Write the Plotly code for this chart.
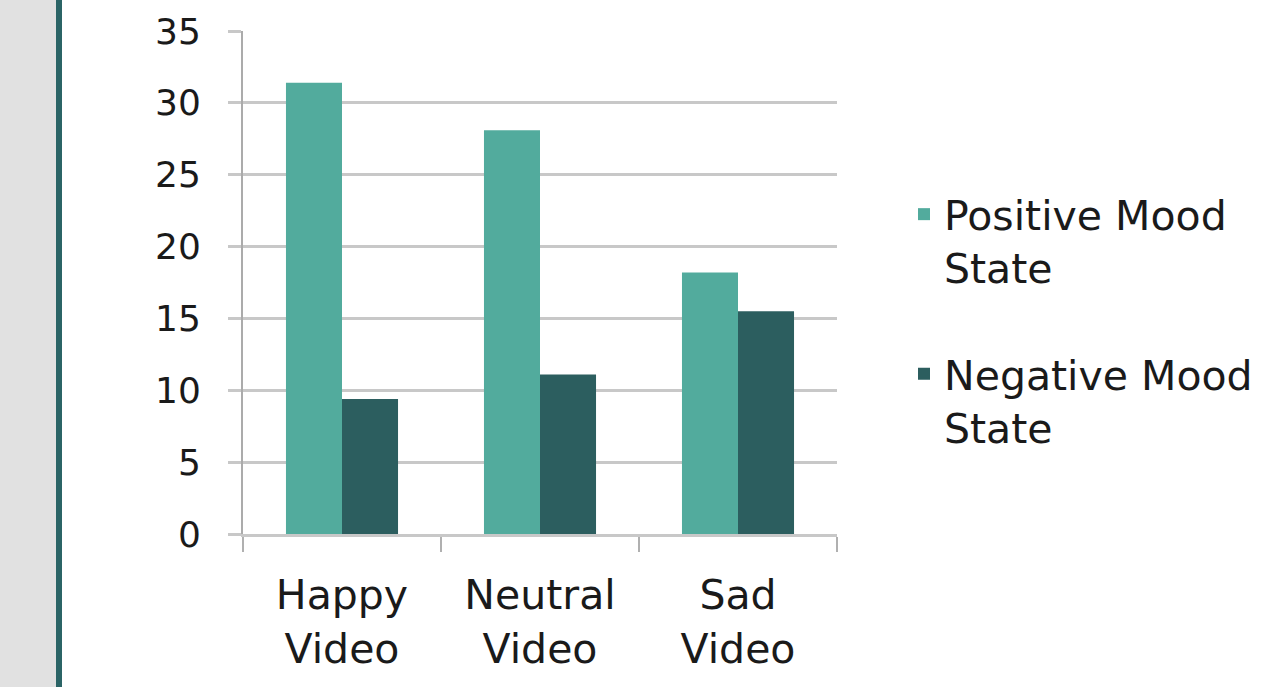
import plotly.graph_objects as go

categories = ["Happy<br>Video", "Neutral<br>Video", "Sad<br>Video"]
positive_mood = [31.4, 28.1, 18.2]
negative_mood = [9.4, 11.1, 15.5]
series_names = ["Positive Mood<br>State", "Negative Mood<br>State"]
y_ticks = [0, 5, 10, 15, 20, 25, 30, 35]

W, H = 1264, 687
L, R, T, B = 243, 837, 31, 534  # plot area pixel bounds

FONT = "DejaVu Sans, sans-serif"

fig = go.Figure()
fig.add_trace(go.Bar(x=categories, y=positive_mood, name=series_names[0],
                     marker=dict(color="#52AB9D", line=dict(width=0)),
                     legendgroup="a"))
fig.add_trace(go.Bar(x=categories, y=negative_mood, name=series_names[1],
                     marker=dict(color="#2C5E5F", line=dict(width=0)),
                     legendgroup="b"))

def px_x(p):
    return (p - L) / (R - L)

def px_y(p):
    return (B - p) / (B - T)

fig.add_shape(type="rect", xref="paper", yref="paper",
              x0=px_x(0), x1=px_x(56), y0=px_y(H), y1=px_y(0),
              fillcolor="#E1E1E1", line=dict(width=0), layer="below")
fig.add_shape(type="rect", xref="paper", yref="paper",
              x0=px_x(56), x1=px_x(62), y0=px_y(H), y1=px_y(0),
              fillcolor="#2B6466", line=dict(width=0), layer="below")

fig.update_layout(
    width=W, height=H,
    margin=dict(l=L, r=W - R, t=T, b=H - B, pad=0, autoexpand=False),
    paper_bgcolor="white", plot_bgcolor="white",
    barmode="group", bargap=0.434, bargroupgap=0,
    font=dict(family=FONT, color="#1A1A1A", size=40),
    legend=dict(x=px_x(904), y=px_y(181), xanchor="left", yanchor="top",
                font=dict(size=41), valign="top", tracegroupgap=50,
                bgcolor="rgba(0,0,0,0)"),
    xaxis=dict(type="category", tickson="boundaries", ticks="outside",
               ticklen=15, tickwidth=2, tickcolor="#B0B0B0",
               showline=True, linecolor="#C8C8C8", linewidth=3,
               showgrid=False, tickfont=dict(size=41), ticklabelstandoff=23,
               automargin=False),
    yaxis=dict(range=[0, 35], tickvals=y_ticks, ticks="outside", ticklen=13,
               tickwidth=3, tickcolor="#C8C8C8", showgrid=True,
               gridcolor="#C8C8C8", gridwidth=3, zeroline=False,
               showline=True, linecolor="#ABABAB", linewidth=2,
               tickfont=dict(size=36), ticklabelstandoff=20,
               automargin=False),
)

fig.write_html("out.html", config={"displayModeBar": False},
               post_script="document.body.style.margin='0px';")
